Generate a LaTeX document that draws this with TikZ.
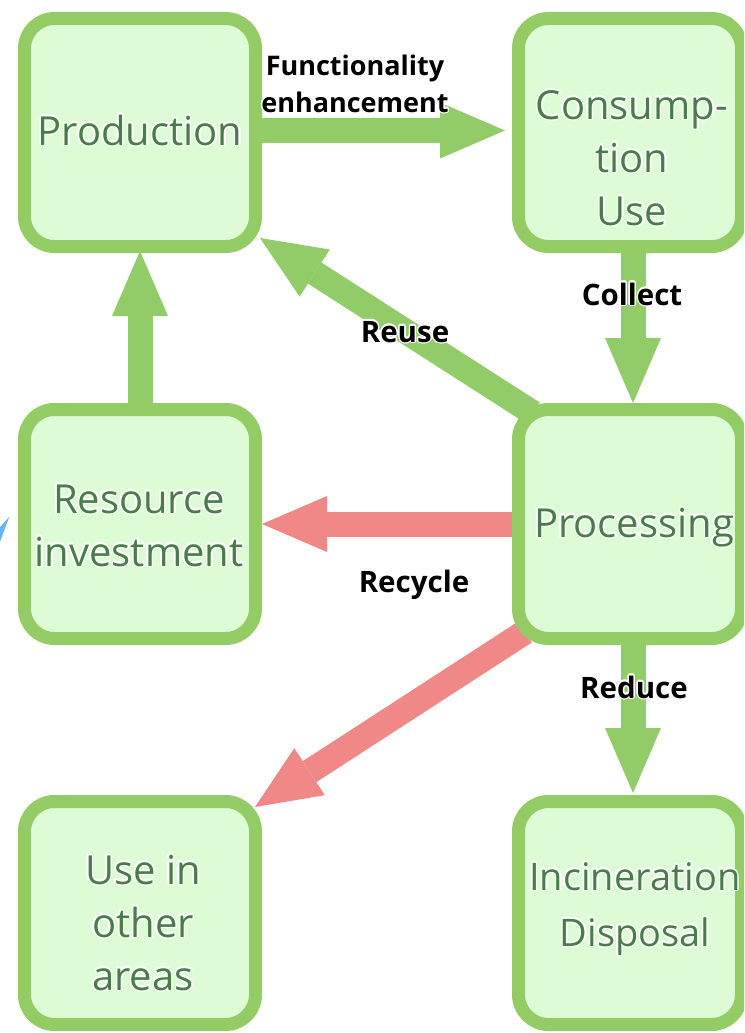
\documentclass[tikz,border=0pt]{standalone}
\usepackage{fontspec}
\setmainfont{Open Sans}
\usepackage{contour}
\contourlength{1.4pt}
\usetikzlibrary{arrows.meta}
\definecolor{gstroke}{RGB}{147,203,100}
\definecolor{gfill}{RGB}{221,252,214}
\definecolor{gtext}{RGB}{72,124,72}
\definecolor{garr}{RGB}{146,204,104}
\definecolor{rarr}{RGB}{240,136,136}
\definecolor{bluebit}{RGB}{100,180,240}
\newcommand{\gl}[1]{\contour{white}{#1}}
\pgfdeclarelayer{bg}
\pgfsetlayers{bg,main}
\begin{document}
\begin{tikzpicture}[x=1pt,y=-1pt,
  box/.style={draw=gstroke, line width=13pt, fill=gfill, rounded corners=30pt, inner sep=0pt},
  boxtext/.style={text=gtext, font=\fontsize{40}{53}\selectfont, align=center, inner sep=0pt, anchor=base},
  lbl/.style={text=black, font=\bfseries\fontsize{29.5}{36}\selectfont, align=center, inner sep=0pt, anchor=base},
  fat/.style={line width=25pt, -{Triangle[width=56pt,length=65pt,line width=0pt]}},
  garrow/.style={fat, draw=garr, fill=garr},
  rarrow/.style={fat, draw=rarr, fill=rarr}
]
\clip (0,0) rectangle (744,1033);
\useasboundingbox (0,0) rectangle (744,1033);

% boxes
\node[box, minimum width=231pt, minimum height=228pt] (prod) at (140,132.5) {};
\node[box, minimum width=223pt, minimum height=228pt] (cons) at (630,132.5) {};
\node[box, minimum width=231pt, minimum height=229pt] (res)  at (140,524) {};
\node[box, minimum width=223pt, minimum height=229pt] (proc) at (630,524) {};
\node[box, minimum width=231pt, minimum height=223pt] (other) at (140,913) {};
\node[box, minimum width=223pt, minimum height=223pt] (inc) at (630,913) {};

% box texts (base = baseline of last line)
\node[boxtext] (tprod) at (140,145) {\gl{Production}};
\node[boxtext] (tcons) at (632,225) {\gl{Consump-}\\\gl{tion}\\\gl{Use}};
\node[boxtext] (tres)  at (139,566) {\gl{Resource}\\\gl{investment}};
\node[boxtext] (tproc) at (634,537) {\gl{Processing}};
\node[boxtext] (tother) at (143,990) {\gl{Use in}\\\gl{other}\\\gl{areas}};
\node[boxtext, font=\fontsize{38}{56}\selectfont] (tinc)  at (635,946) {\gl{Incineration}\\\gl{Disposal}};

% arrows (behind boxes)
\begin{pgfonlayer}{bg}
\fill[white] (0,0) rectangle (744,1033);
\draw[garrow] ([yshift=2pt]prod.east) -- ([xshift=-7pt,yshift=2pt]cons.west);
\draw[garrow] ([xshift=3pt]cons.south) -- ([xshift=3pt]proc.north);
\draw[garrow] ([xshift=3pt]proc.south) -- ([xshift=3pt,yshift=2pt]inc.north);
\draw[garrow] (res.north) -- ([yshift=2pt]prod.south);
\draw[garrow] ([shift={(21,10)}]proc.north west) -- ([shift={(-2,-15)}]prod.south east);
\draw[rarrow] (proc.west) -- (res.east);
\draw[rarrow] ([shift={(13,-13)}]proc.south west) -- ([shift={(-7,12)}]other.north east);
\end{pgfonlayer}

% labels
\node[lbl, font=\bfseries\fontsize{27}{36}\selectfont] (lfun) at (355,112) {\gl{Functionality}\\\gl{enhancement}};
\node[lbl] (lcol) at (632,305) {\gl{Collect}};
\node[lbl] (lreu) at (405,342) {\gl{Reuse}};
\node[lbl] (lrec) at (414,592) {\gl{Recycle}};
\node[lbl] (lred) at (634,698) {\gl{Reduce}};

% blue fragment at left edge
\fill[bluebit] (9.3,516.7) -- (0,527.3) -- (0,541.7) -- cycle;
\end{tikzpicture}
\end{document}
